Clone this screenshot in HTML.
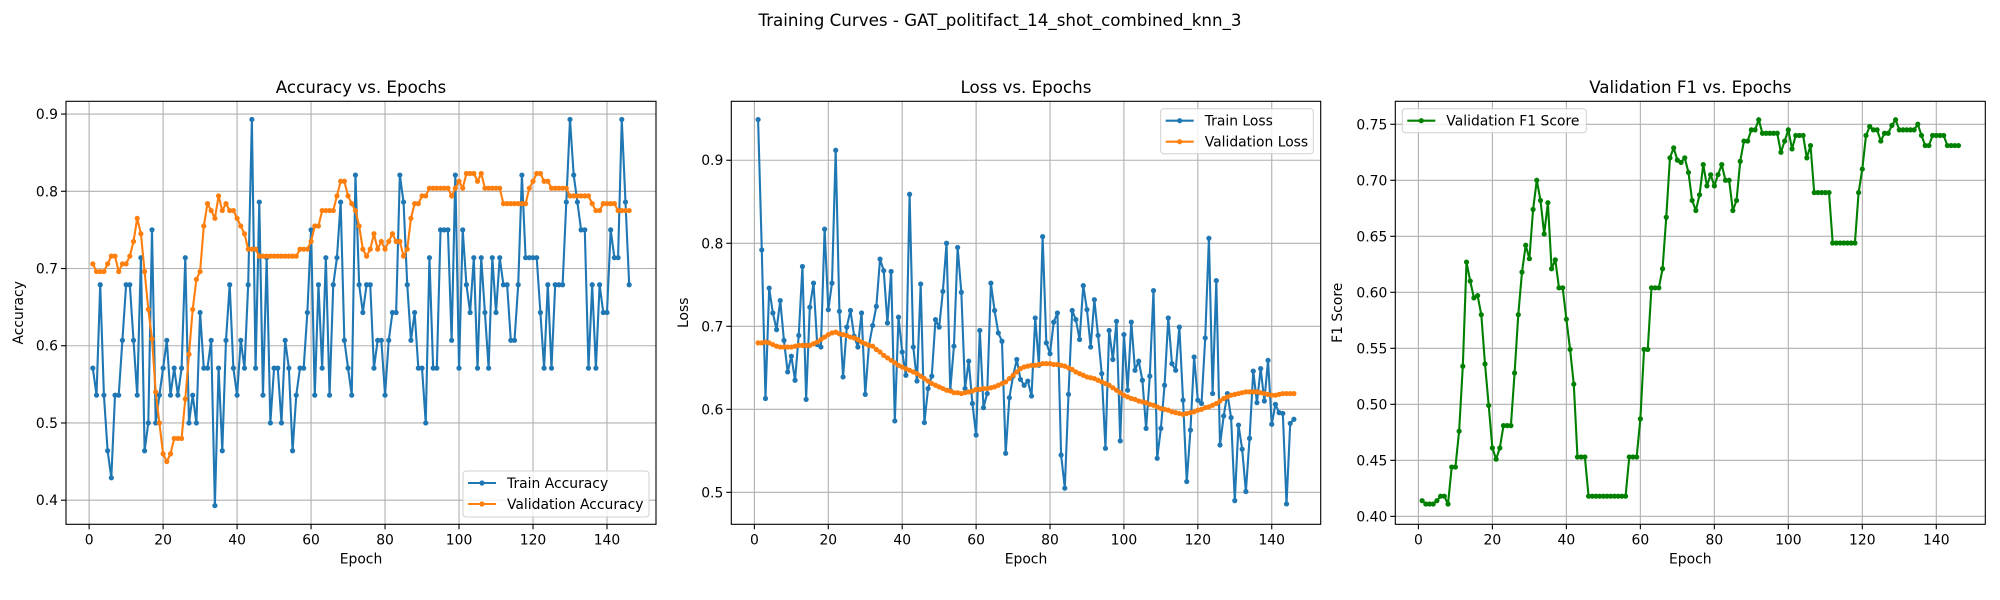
<!DOCTYPE html>
<html><head><meta charset="utf-8"><style>
html,body{margin:0;padding:0;background:#fff;}
svg{display:block;font-family:"DejaVu Sans","Liberation Sans",sans-serif;}
</style></head><body>
<svg id="fig" width="2000" height="600" viewBox="0 0 2000 600"></svg>
<script>
const trainAcc=[.571,.536,.679,.536,.464,.429,.536,.536,.607,.679,
.679,.607,.536,.714,.464,.5,.75,.5,.536,.571,
.607,.536,.571,.536,.571,.714,.5,.536,.5,.643,
.571,.571,.607,.393,.571,.464,.607,.679,.571,.536,
.607,.571,.679,.893,.571,.786,.536,.714,.5,.571,
.571,.5,.607,.571,.464,.536,.571,.571,.643,.75,
.536,.679,.571,.714,.536,.679,.714,.786,.607,.571,
.536,.821,.679,.643,.679,.679,.571,.607,.607,.536,
.607,.643,.643,.821,.786,.679,.607,.643,.571,.571,
.5,.714,.571,.571,.75,.75,.75,.607,.821,.571,
.75,.679,.643,.714,.571,.714,.643,.571,.714,.643,
.714,.679,.679,.607,.607,.679,.821,.714,.714,.714,
.714,.643,.571,.679,.571,.679,.679,.679,.786,.893,
.821,.786,.75,.75,.571,.679,.571,.679,.643,.643,
.75,.714,.714,.893,.786,.679];
const valAcc=[.706,.696,.696,.696,.706,.716,.716,.696,.706,.706,
.716,.735,.765,.745,.696,.647,.609,.54,.5,.46,
.45,.46,.48,.48,.48,.531,.589,.647,.686,.696,
.755,.784,.775,.765,.794,.775,.784,.775,.775,.765,
.755,.745,.725,.725,.725,.716,.716,.716,.716,.716,
.716,.716,.716,.716,.716,.716,.725,.725,.725,.735,
.755,.755,.775,.775,.775,.775,.794,.813,.813,.794,
.784,.775,.755,.725,.716,.725,.745,.725,.735,.725,
.735,.745,.735,.735,.716,.725,.765,.784,.784,.794,
.794,.804,.804,.804,.804,.804,.804,.794,.804,.813,
.804,.823,.823,.823,.813,.823,.804,.804,.804,.804,
.804,.784,.784,.784,.784,.784,.784,.784,.804,.813,
.823,.823,.813,.813,.804,.804,.804,.804,.804,.794,
.794,.794,.794,.794,.794,.784,.775,.775,.784,.784,
.784,.784,.775,.775,.775,.775];
const trainLoss=[.949,.792,.613,.746,.716,.696,.731,.683,.645,.664,
.635,.689,.772,.612,.723,.752,.678,.675,.817,.720,
.752,.912,.718,.639,.699,.719,.688,.675,.716,.618,
.677,.701,.724,.781,.767,.704,.766,.586,.711,.669,
.641,.859,.675,.634,.751,.584,.625,.640,.708,.699,
.742,.800,.623,.676,.795,.741,.625,.658,.607,.569,
.695,.602,.619,.752,.719,.692,.682,.547,.614,.640,
.660,.636,.629,.634,.616,.710,.653,.808,.680,.667,
.705,.716,.545,.505,.618,.719,.708,.684,.749,.720,
.675,.732,.689,.643,.553,.695,.660,.706,.562,.690,
.623,.705,.647,.658,.635,.577,.640,.743,.541,.577,
.629,.710,.655,.647,.699,.611,.513,.575,.663,.611,
.607,.686,.806,.619,.755,.557,.592,.619,.590,.490,
.581,.552,.501,.565,.646,.608,.649,.610,.659,.582,
.606,.596,.595,.486,.583,.588];
const valLoss=[.680,.680,.681,.680,.678,.676,.675,.675,.675,.675,
.676,.677,.677,.677,.677,.679,.681,.684,.687,.690,
.692,.693,.691,.690,.689,.687,.686,.684,.681,.679,
.677,.676,.672,.669,.665,.662,.659,.656,.653,.651,
.649,.647,.645,.643,.640,.637,.634,.631,.629,.627,
.625,.623,.622,.620,.620,.619,.620,.621,.622,.624,
.624,.625,.625,.626,.627,.629,.631,.633,.637,.641,
.645,.649,.651,.652,.653,.653,.654,.655,.655,.655,
.654,.654,.653,.652,.650,.648,.645,.643,.641,.639,
.638,.637,.635,.633,.631,.629,.626,.623,.620,.617,
.615,.613,.612,.610,.609,.608,.606,.605,.603,.601,
.600,.599,.597,.596,.595,.594,.595,.596,.597,.599,
.600,.602,.603,.605,.607,.610,.613,.615,.617,.618,
.619,.620,.621,.621,.621,.621,.620,.619,.618,.617,
.617,.618,.619,.619,.619,.619];
const valF1=[.414,.411,.411,.411,.414,.418,.418,.411,.444,.444,
.476,.534,.627,.610,.595,.597,.580,.536,.499,.461,
.451,.461,.481,.481,.481,.528,.580,.618,.642,.630,
.674,.700,.682,.652,.680,.621,.629,.604,.604,.576,
.549,.518,.453,.453,.453,.418,.418,.418,.418,.418,
.418,.418,.418,.418,.418,.418,.453,.453,.453,.487,
.549,.549,.604,.604,.604,.621,.667,.720,.729,.718,
.716,.720,.707,.682,.673,.687,.714,.695,.705,.695,
.705,.714,.700,.700,.673,.682,.717,.735,.735,.745,
.745,.754,.742,.742,.742,.742,.742,.725,.735,.745,
.728,.740,.740,.740,.720,.731,.689,.689,.689,.689,
.689,.644,.644,.644,.644,.644,.644,.644,.689,.710,
.740,.748,.745,.745,.735,.742,.742,.749,.754,.745,
.745,.745,.745,.745,.750,.740,.731,.731,.740,.740,
.740,.740,.731,.731,.731,.731];
const xTicks=[0,20,40,60,80,100,120,140];
const accTicks=[0.4,0.5,0.6,0.7,0.8,0.9];
const lossTicks=[0.5,0.6,0.7,0.8,0.9];
const f1Ticks=[0.40,0.45,0.50,0.55,0.60,0.65,0.70,0.75];

const NS="http://www.w3.org/2000/svg";
const svg=document.getElementById('fig');
function mk(tag,attrs,parent){const e=document.createElementNS(NS,tag);for(const k in attrs)e.setAttribute(k,attrs[k]);(parent||svg).appendChild(e);return e;}
function txt(s,attrs,parent){const e=mk('text',attrs,parent);e.textContent=s;return e;}

const TOP=101.3,BOT=524.3,XMIN=-6.25,XMAX=153.25;
function makeAxes(cfg){
  const g=mk('g',{});
  
  
  const L=cfg.left,R=cfg.right;
  const sx=v=>L+(v-XMIN)/(XMAX-XMIN)*(R-L);
  const sy=v=>BOT-(v-cfg.ymin)/(cfg.ymax-cfg.ymin)*(BOT-TOP);
  xTicks.forEach(t=>{const l=mk('line',{x1:sx(t),x2:sx(t),y1:TOP,y2:BOT,stroke:'#b0b0b0','stroke-width':1.1},g);
    
    const tk=mk('line',{x1:sx(t),x2:sx(t),y1:BOT,y2:BOT+5,stroke:'#000','stroke-width':1.1},g);
    
    const tl=txt(String(t),{x:sx(t),y:BOT+20,'font-size':13.9,'text-anchor':'middle',fill:'#000'},g);
    });
  cfg.yticks.forEach(t=>{const l=mk('line',{x1:L,x2:R,y1:sy(t),y2:sy(t),stroke:'#b0b0b0','stroke-width':1.1},g);
    
    const tk=mk('line',{x1:L-5,x2:L,y1:sy(t),y2:sy(t),stroke:'#000','stroke-width':1.1},g);
    
    const tl=txt(t.toFixed(cfg.dec),{x:L-8,y:sy(t)+5,'font-size':13.9,'text-anchor':'end',fill:'#000'},g);
    });
  cfg.series.forEach(s=>{
    const sg=mk('g',{},g);
    
    
    const pts=s.data.map((v,i)=>sx(i+1).toFixed(2)+','+sy(v).toFixed(2)).join(' ');
    mk('polyline',{points:pts,fill:'none',stroke:s.color,'stroke-width':2.1,'stroke-linejoin':'round'},sg);
    s.data.forEach((v,i)=>{const c=mk('circle',{cx:sx(i+1),cy:sy(v),r:2.6,fill:s.color},sg);
      });
  });
  const fr=mk('rect',{x:L,y:TOP,width:R-L,height:BOT-TOP,fill:'none',stroke:'#000','stroke-width':1.1},g);
  
  const ti=txt(cfg.title,{x:(L+R)/2,y:93,'font-size':16.7,'text-anchor':'middle',fill:'#000'},g);
  
  const xl=txt('Epoch',{x:(L+R)/2,y:BOT+39,'font-size':13.9,'text-anchor':'middle',fill:'#000'},g);
  
  const yl=txt(cfg.ylabel,{x:0,y:0,'font-size':13.9,'text-anchor':'middle',fill:'#000',transform:`translate(${cfg.ylx},${(TOP+BOT)/2}) rotate(-90)`},g);
  
  const lg=mk('g',{},g);
  
  
  const lc=cfg.legend;
  mk('rect',{x:lc.x,y:lc.y,width:lc.w,height:lc.h,rx:3,fill:'#fff','fill-opacity':0.8,stroke:'#d0d0d0','stroke-width':1},lg);
  cfg.series.forEach((s,i)=>{const yy=lc.y+17+i*21;
    const e=mk('g',{},lg);
    
    
    mk('line',{x1:lc.x+5,x2:lc.x+33,y1:yy-5,y2:yy-5,stroke:s.color,'stroke-width':2.1},e);
    mk('circle',{cx:lc.x+19,cy:yy-5,r:2.6,fill:s.color},e);
    txt(s.label,{x:lc.x+44,y:yy,'font-size':13.9,fill:'#000'},e);});
}
const sup=txt('Training Curves - GAT_politifact_14_shot_combined_knn_3',{x:1000,y:26,'font-size':16.7,'text-anchor':'middle',fill:'#000'});



makeAxes({name:'accuracy-chart',left:66,right:656,ymin:0.3688,ymax:0.9165,yticks:accTicks,dec:1,title:'Accuracy vs. Epochs',ylabel:'Accuracy',ylx:23,
  legend:{x:463,y:471,w:186,h:46},
  series:[{name:'train-accuracy-series',label:'Train Accuracy',color:'#1f77b4',data:trainAcc},
          {name:'validation-accuracy-series',label:'Validation Accuracy',color:'#ff7f0e',data:valAcc}]});
makeAxes({name:'loss-chart',left:731.3,right:1320.7,ymin:0.4615,ymax:0.971,yticks:lossTicks,dec:1,title:'Loss vs. Epochs',ylabel:'Loss',ylx:688,
  legend:{x:1160.7,y:108.7,w:152.6,h:45},
  series:[{name:'train-loss-series',label:'Train Loss',color:'#1f77b4',data:trainLoss},
          {name:'validation-loss-series',label:'Validation Loss',color:'#ff7f0e',data:valLoss}]});
makeAxes({name:'f1-chart',left:1395.3,right:1985.3,ymin:0.3929,ymax:0.7705,yticks:f1Ticks,dec:2,title:'Validation F1 vs. Epochs',ylabel:'F1 Score',ylx:1342,
  legend:{x:1402.3,y:108.7,w:184,h:24},
  series:[{name:'validation-f1-series',label:'Validation F1 Score',color:'#008000',data:valF1}]});
</script>
</body></html>
